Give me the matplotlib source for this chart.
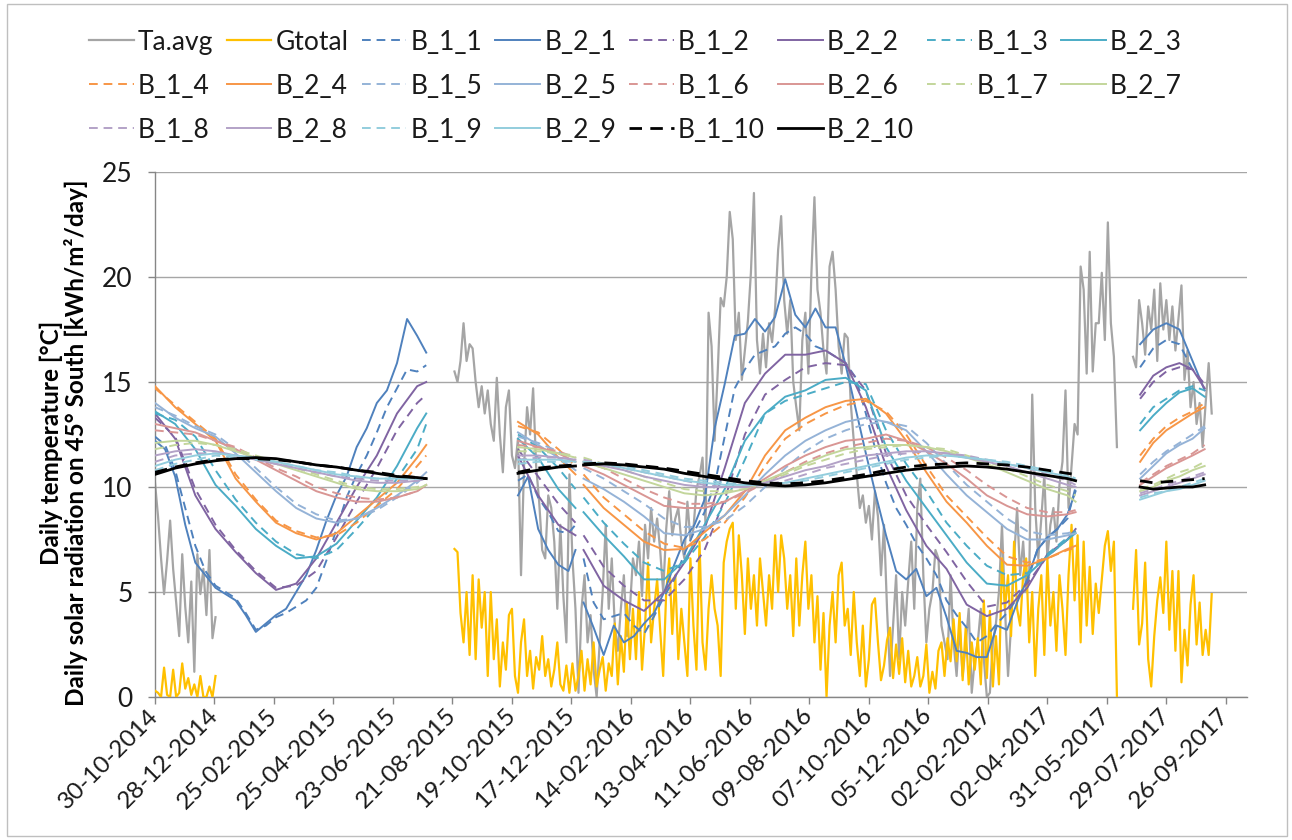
import numpy as np
import matplotlib
matplotlib.use('Agg')
import matplotlib.pyplot as plt
import matplotlib.dates as mdates
from matplotlib.lines import Line2D
from matplotlib.patches import Rectangle

plt.rcParams['font.family'] = ['Lato', 'DejaVu Sans']

nan = np.nan
start_date = np.datetime64('2014-10-30')

##############################################################################
# Data (days counted from 30-10-2014)

# Ta.avg and Gtotal: one value every 3 days, three measuring periods
ta_start = [0, 297, 970]
ta_a = [10.2, 8.6, 6.6, 4.9, 6.5, 8.4, 6.1, 4.5, 2.9, 6.8, 4.3, 2.6, 5.5, 1.2, 6.8, 4.9, 6.1, 3.9, 7.0, 2.8, 3.8]
ta_b = [15.5, 15.0, 16.0, 17.8, 16.0, 16.8, 16.6, 15.0, 13.8, 14.8,
        13.5, 14.6, 13.0, 12.2, 15.2, 12.5, 10.7, 13.8, 14.6, 11.5,
        10.9, 12.3, 5.8, 11.0, 13.8, 12.5, 14.7, 11.0, 9.3, 7.0,
        6.6, 9.6, 9.0, 7.4, 4.2, 8.2, 4.8, 2.6, 10.6, 6.6,
        4.2, 0.2, 4.2, 5.8, 2.6, 3.9, 1.3, 0.0, 2.6, 5.0,
        8.2, 4.2, 6.6, 3.4, 2.2, 4.2, 5.8, 2.9, 4.2, 6.6,
        5.8, 7.4, 4.8, 8.2, 6.6, 9.0, 7.4, 8.5, 7.0,
        5.0, 8.0, 9.8, 7.7, 8.5, 9.0, 7.4, 6.6, 9.3, 7.5,
        8.0, 9.9, 10.5, 11.4, 8.2, 18.3, 16.7, 12.2, 15.4, 19.0,
        18.6, 20.0, 23.1, 21.8, 17.0, 18.3, 15.1, 16.5, 17.9, 20.2,
        24.0, 17.0, 15.4, 17.3, 15.7, 17.8, 16.9, 18.5, 21.3, 22.9,
        18.9, 17.3, 18.9, 15.0, 13.8, 12.7, 17.0, 18.3, 15.4, 20.2,
        23.8, 19.4, 18.3, 16.5, 15.4, 20.5, 21.2, 19.4, 16.7, 15.4,
        17.3, 17.1, 14.0, 12.2, 10.6, 9.0, 9.6, 8.3, 9.1, 7.5,
        9.8, 8.6,
        5.8, 8.2, 4.2, 1.0, 3.4, 5.8, 1.8, 5.0, 3.4, 5.5,
        7.4, 4.2, 9.0, 10.4, 5.8, 2.6, 4.2, 5.0, 7.0, 6.6,
        3.4, 2.6, 1.8, 5.8, 2.6, 1.0, 3.4, 1.0, 2.5, 4.2,
        0.2, 1.8, 2.6, 4.2, 1.8, 0.0, 0.2, 2.6, 3.5, 5.0,
        8.2, 4.2, 1.0, 3.4, 6.6, 9.0, 5.8, 7.4, 5.0, 5.8,
        14.4, 9.0, 6.6, 8.5, 10.6, 6.6, 8.2, 9.0, 7.4, 10.1,
        11.2, 14.6, 9.0, 11.0, 13.0, 12.5, 20.5, 19.4, 15.4, 21.2,
        15.5, 17.8, 17.8, 20.2, 17.0, 22.6, 17.8, 16.2, 11.9]
ta_c = [16.2, 15.7, 18.9, 17.8, 16.3, 18.6, 17.5, 19.4, 16.0, 19.7, 17.5, 18.9, 17.0, 18.6,
        16.5, 18.0, 19.6, 15.1, 16.5, 13.8, 15.0, 13.0, 14.0, 11.9, 14.0, 15.9, 13.5]

gt_a = [0.3, 0.2, 0.0, 1.4, 0.1, 0.0, 1.3, 0.0, 0.2, 1.6, 0.4, 0.9, 0.1, 0.6, 0.0, 1.0, 0.0, 0.0, 0.5, 0.0, 1.0]
gt_b = [7.05, 6.9, 4.0, 2.6, 5.0, 2.0, 5.8, 1.8, 5.6, 3.3,
        5.0, 1.0, 5.0, 1.8, 3.7, 0.5, 2.6, 1.3, 3.9, 4.2,
        1.0, 0.2, 2.6, 3.7, 1.0, 2.2, 0.4, 1.9, 1.3, 2.9,
        1.0, 1.8, 0.5, 1.3, 2.6, 0.6, 0.3, 1.5, 0.2, 1.6,
        0.3, 1.0, 2.2, 0.3, 1.8, 0.6, 2.6, 0.5, 1.3, 1.9,
        0.3, 1.6, 1.0, 3.5, 0.6, 2.9, 1.2, 4.5, 1.8, 4.2,
        1.8, 5.0, 1.3, 3.4, 6.4, 2.6, 4.2, 5.6, 3.2,
        1.0, 5.0, 6.6, 3.0, 5.8, 1.8, 4.2, 2.6, 1.0, 6.6,
        3.4, 1.3, 7.4, 2.6, 1.3, 4.2, 5.8, 4.2, 3.4, 1.0,
        6.4, 7.4, 8.0, 8.3, 4.2, 7.7, 5.8, 3.0, 6.6, 4.2,
        5.8, 3.4, 6.6, 5.0, 3.4, 5.8, 4.2, 7.7, 5.0, 7.7,
        6.6, 4.2, 5.8, 2.9, 6.6, 3.4, 5.8, 7.4, 4.2, 5.8,
        2.6, 4.8, 1.3, 4.0, 0.0, 3.4, 5.0, 2.6, 5.8, 6.4,
        3.4, 4.2, 2.0, 5.0, 2.6, 1.0, 3.4, 0.5, 1.8, 4.4,
        4.7, 2.6,
        0.8, 1.5, 2.7, 3.3, 0.9, 2.5, 1.1, 2.8, 0.7, 2.2,
        0.5, 1.0, 1.9, 0.5, 1.0, 2.5, 0.2, 1.2, 0.4, 2.2,
        2.6, 1.0, 2.8, 1.7, 3.7, 1.7, 4.0, 0.8, 3.3, 0.6,
        2.6, 1.3, 2.8, 0.6, 4.6, 0.9, 4.1, 0.5, 2.9, 0.6,
        6.6, 4.2, 5.8, 2.9, 7.4, 4.2, 3.4, 5.8, 6.6, 2.6,
        5.0, 1.0, 4.2, 5.8, 2.0, 6.6, 3.4, 5.0, 2.2, 5.8,
        4.2, 2.0, 5.8, 8.2, 4.6, 7.7, 2.6, 7.4, 3.4, 6.2,
        3.0, 5.4, 4.0, 5.6, 7.2, 7.9, 6.0, 7.4, 0.0]
gt_c = [4.2, 7.0, 2.5, 3.5, 6.4, 1.8, 0.5, 2.9, 4.6, 5.7, 4.0, 7.4, 3.2, 6.0,
        2.2, 6.0, 0.7, 3.2, 1.5, 4.4, 5.8, 2.5, 4.5, 2.0, 3.2, 2.0, 4.9]

# sample days for the B_ series (nan marks the breaks in the record)
days_c = [977, 990, 1003, 1016, 1029, 1041]
days_fine = (list(range(0, 261, 10)) + [269] + [300]
             + list(range(360, 411, 10)) + [417, 421] + list(range(425, 906, 10)) + [913]
             + [950] + days_c)
days_coarse = (list(range(0, 261, 20)) + [269] + [300]
               + [360, 380, 400, 417, 421] + list(range(425, 906, 20)) + [913]
               + [950] + days_c)

B_2_1 = [12.2, 11.8, 10.5, 8.2, 6.4, 5.8, 5.2, 4.9, 4.6, 3.9, 3.1, 3.5, 3.9, 4.2, 5.0, 5.8, 7.0, 8.4,
         9.6, 10.5, 11.9, 12.8, 14.0, 14.6, 15.9, 18.0, 17.2, 16.4,
         nan,
         9.6, 10.5, 8.0, 7.0, 6.3, 6.0, 7.0, nan,
         4.5, 3.3, 2.0, 3.4, 2.6, 2.9, 3.5, 4.0, 5.0, 6.3,
         7.5, 8.2, 9.4, 12.8, 14.9, 17.2, 17.3, 18.0, 17.4, 18.1,
         19.9, 18.2, 17.6, 18.5, 17.6, 17.6, 15.8, 13.7, 11.6, 9.6,
         7.7, 6.0, 5.6, 6.1, 4.8, 5.2, 3.8, 2.2, 2.1, 1.9,
         1.9, 3.4, 3.2, 4.5, 5.6, 7.0, 7.6, 8.0, 8.7, 9.8,
         nan,
         16.8, 17.5, 17.8, 17.5, 16.0, 14.6]
B_1_1 = [12.4, 12.0, 10.8, 9.0, 7.2, 6.0, 5.3, 5.0, 4.7, 4.0, 3.2, 3.4, 3.8, 4.0, 4.3, 4.6, 5.2, 6.5,
         8.0, 9.5, 10.6, 11.5, 12.6, 13.8, 14.7, 15.6, 15.5, 15.8,
         nan,
         10.3, 10.6, 9.5, 8.8, 7.9, 7.8, 8.2, nan,
         6.6, 4.5, 3.7, 3.85, 4.0, 3.4, 3.0, 3.85, 4.8, 5.6,
         6.8, 7.9, 8.8, 10.1, 12.4, 14.7, 15.6, 16.3, 16.5, 16.7,
         17.3, 17.6, 17.3, 16.7, 16.5, 16.2, 15.9, 15.2, 13.5, 11.7,
         10.2, 9.0, 8.2, 7.3, 6.6, 5.8, 4.6, 3.9, 3.3, 2.6,
         2.9, 3.5, 4.0, 4.7, 5.5, 7.0, 7.6, 8.0, 8.5, 10.0,
         nan,
         15.7, 16.6, 17.0, 16.8, 15.6, 14.8]

B_1_2 = [13.3, 12.4, 9.9, 8.2, 7.0, 6.0, 5.2, 5.3, 6.0, 7.6, 9.3, 10.9, 12.7, 14.0, 14.4, nan,
         11.8, 10.5, 9.2, 8.3, nan, 7.7, 6.2, 5.3, 4.6, 4.6, 5.6, 7.0, 9.4, 12.5, 14.4, 15.1, 15.7,
         15.9, 15.8, 14.6, 11.6, 9.6, 8.2, 6.9, 5.5, 4.3, 4.5, 5.4, 6.7, 7.5, 7.9, nan,
         14.2, 15.0, 15.5, 15.7, 15.6, 14.9]
B_2_2 = [13.5, 12.3, 9.6, 8.0, 6.9, 5.9, 5.1, 5.4, 6.6, 8.3, 10.0, 11.5, 13.5, 14.8, 15.0, nan,
         11.5, 9.6, 8.2, 7.7, nan, 7.0, 5.3, 4.6, 4.1, 5.0, 6.4, 8.0, 10.9, 14.0, 15.4, 16.3, 16.3,
         16.5, 15.9, 13.8, 11.0, 8.9, 7.2, 6.1, 4.4, 3.85, 4.2, 5.2, 6.8, 7.5, 8.0, nan,
         14.4, 15.3, 15.7, 15.9, 15.6, 14.7]
B_1_3 = [13.5, 13.2, 12.4, 10.8, 9.4, 8.3, 7.4, 6.8, 6.6, 7.0, 8.0, 9.1, 10.4, 11.8, 13.0, nan,
         12.5, 11.9, 10.9, 9.9, nan, 9.5, 8.3, 7.3, 6.4, 6.0, 6.4, 7.6, 9.2, 11.3, 13.5, 14.1, 14.4,
         14.7, 15.0, 14.9, 12.7, 11.1, 9.8, 8.3, 7.2, 6.25, 5.8, 5.9, 6.8, 7.6, 7.9, nan,
         13.0, 13.8, 14.2, 14.6, 14.8, 14.6]
B_2_3 = [13.6, 13.0, 11.8, 10.1, 9.1, 8.0, 7.2, 6.6, 6.7, 7.3, 8.4, 9.5, 11.0, 12.8, 13.5, nan,
         12.3, 11.4, 9.9, 9.0, nan, 8.8, 7.7, 6.7, 5.6, 5.6, 6.5, 8.2, 9.9, 12.2, 13.5, 14.3, 14.6,
         15.1, 15.2, 14.6, 11.9, 10.3, 9.0, 7.7, 6.4, 5.4, 5.3, 5.8, 6.7, 7.5, 7.8, nan,
         12.7, 13.4, 14.0, 14.5, 14.7, 14.3]
B_1_4 = [14.7, 13.9, 13.1, 12.3, 10.6, 9.4, 8.4, 7.9, 7.6, 7.7, 8.3, 9.1, 9.9, 11.0, 11.5, nan,
         12.9, 12.6, 11.8, 11.0, nan, 10.6, 9.5, 8.7, 7.9, 7.3, 7.1, 7.5, 8.3, 9.5, 11.0, 12.3, 13.0,
         13.5, 13.9, 14.1, 13.6, 12.5, 11.0, 9.6, 8.6, 7.6, 6.7, 6.4, 6.6, 7.0, 7.1, nan,
         11.5, 12.3, 12.9, 13.3, 13.6, 14.0]
B_2_4 = [14.8, 13.8, 13.0, 12.2, 10.4, 9.3, 8.3, 7.8, 7.5, 7.8, 8.6, 9.4, 10.2, 11.4, 12.0, nan,
         13.1, 12.5, 11.4, 10.6, nan, 10.1, 9.0, 8.2, 7.4, 7.0, 7.05, 7.85, 8.65, 9.8, 11.5, 12.7, 13.3,
         13.8, 14.1, 14.2, 13.5, 12.2, 10.7, 9.3, 8.3, 7.2, 6.3, 6.25, 6.6, 7.05, 7.2, nan,
         11.2, 12.1, 12.7, 13.1, 13.5, 13.8]
B_1_5 = [13.8, 13.4, 12.9, 12.5, 11.8, 10.9, 10.0, 9.2, 8.7, 8.4, 8.5, 8.9, 9.5, 10.2, 10.6, nan,
         12.4, 12.1, 11.7, 11.2, nan, 10.9, 10.4, 9.8, 9.2, 8.5, 8.1, 8.1, 8.4, 9.1, 10.0, 10.9, 11.7,
         12.3, 12.7, 13.0, 13.1, 12.9, 12.1, 11.1, 10.1, 9.3, 8.5, 7.9, 7.7, 7.8, 7.9, nan,
         10.6, 11.2, 11.7, 12.1, 12.5, 12.9]
B_2_5 = [14.0, 13.3, 12.8, 12.4, 11.6, 10.7, 9.8, 9.0, 8.5, 8.3, 8.5, 9.0, 9.6, 10.3, 10.7, nan,
         12.6, 12.0, 11.4, 10.8, nan, 10.4, 9.9, 9.3, 8.6, 7.8, 7.7, 8.0, 8.65, 9.6, 10.6, 11.5, 12.2,
         12.7, 13.1, 13.3, 13.1, 12.7, 11.7, 10.6, 9.6, 8.8, 8.0, 7.5, 7.5, 7.7, 7.8, nan,
         10.4, 11.0, 11.6, 12.0, 12.3, 12.8]
B_1_6 = [12.7, 12.6, 12.5, 12.2, 11.9, 11.4, 10.9, 10.5, 10.0, 9.7, 9.5, 9.4, 9.5, 9.8, 10.1, nan,
         12.0, 11.9, 11.7, 11.4, nan, 11.2, 10.9, 10.4, 9.9, 9.5, 9.2, 9.2, 9.3, 9.7, 10.2, 10.7, 11.2,
         11.6, 11.9, 12.1, 12.3, 12.2, 11.9, 11.4, 10.8, 10.1, 9.5, 9.0, 8.8, 8.8, 8.9, nan,
         10.2, 10.6, 11.0, 11.3, 11.6, 12.0]
B_2_6 = [13.0, 12.8, 12.6, 12.2, 11.8, 11.3, 10.8, 10.3, 9.8, 9.5, 9.3, 9.3, 9.5, 9.8, 10.1, nan,
         12.2, 11.9, 11.6, 11.2, nan, 11.0, 10.6, 10.1, 9.6, 9.1, 9.0, 9.0, 9.3, 9.8, 10.4, 11.0, 11.5,
         11.9, 12.2, 12.3, 12.5, 12.2, 11.7, 11.1, 10.4, 9.6, 9.1, 8.7, 8.6, 8.7, 8.8, nan,
         10.1, 10.5, 10.9, 11.2, 11.5, 11.8]
B_1_7 = [11.8, 12.0, 12.1, 12.0, 11.8, 11.5, 11.2, 10.9, 10.6, 10.3, 10.0, 9.9, 9.9, 10.0, 10.1, nan,
         11.7, 11.7, 11.6, 11.5, nan, 11.4, 11.1, 10.8, 10.5, 10.2, 9.9, 9.8, 9.8, 9.9, 10.2, 10.6, 11.0,
         11.3, 11.6, 11.8, 11.9, 12.0, 11.9, 11.8, 11.5, 11.2, 10.9, 10.5, 10.1, 9.8, 9.6, nan,
         9.9, 10.1, 10.4, 10.7, 10.9, 11.2]
B_2_7 = [12.1, 12.2, 12.2, 12.0, 11.7, 11.4, 11.1, 10.8, 10.5, 10.2, 9.9, 9.8, 9.8, 9.9, 10.1, nan,
         11.9, 11.8, 11.6, 11.4, nan, 11.2, 10.9, 10.6, 10.3, 10.0, 9.7, 9.6, 9.7, 9.9, 10.3, 10.7, 11.1,
         11.5, 11.8, 11.9, 12.0, 12.0, 11.9, 11.7, 11.4, 11.1, 10.7, 10.3, 9.9, 9.6, 9.3, nan,
         9.8, 10.0, 10.3, 10.5, 10.8, 11.0]
B_1_8 = [11.2, 11.5, 11.6, 11.6, 11.5, 11.3, 11.1, 10.9, 10.7, 10.5, 10.4, 10.3, 10.3, 10.3, 10.4, nan,
         11.3, 11.4, 11.4, 11.3, nan, 11.3, 11.1, 10.9, 10.7, 10.5, 10.3, 10.1, 10.0, 10.0, 10.1, 10.3, 10.6,
         10.9, 11.1, 11.3, 11.5, 11.6, 11.7, 11.6, 11.5, 11.3, 11.1, 10.9, 10.6, 10.3, 10.1, nan,
         9.7, 9.9, 10.1, 10.3, 10.5, 10.7]
B_2_8 = [11.5, 11.7, 11.8, 11.7, 11.5, 11.3, 11.1, 10.9, 10.7, 10.5, 10.3, 10.2, 10.2, 10.3, 10.4, nan,
         11.5, 11.5, 11.4, 11.3, nan, 11.2, 11.0, 10.8, 10.5, 10.3, 10.1, 10.0, 10.0, 10.0, 10.2, 10.5, 10.8,
         11.0, 11.3, 11.5, 11.6, 11.7, 11.7, 11.6, 11.4, 11.2, 11.0, 10.7, 10.4, 10.1, 10.0, nan,
         9.6, 9.8, 10.0, 10.2, 10.4, 10.6]
B_1_9 = [10.8, 11.1, 11.3, 11.5, 11.4, 11.3, 11.2, 11.0, 10.8, 10.7, 10.5, 10.4, 10.4, 10.4, 10.4, nan,
         11.1, 11.2, 11.2, 11.2, nan, 11.2, 11.1, 11.0, 10.8, 10.6, 10.4, 10.3, 10.2, 10.1, 10.1, 10.2, 10.3,
         10.5, 10.7, 10.9, 11.1, 11.3, 11.4, 11.5, 11.4, 11.3, 11.2, 11.0, 10.8, 10.6, 10.4, nan,
         9.5, 9.7, 9.8, 10.0, 10.2, 10.4]
B_2_9 = [11.0, 11.3, 11.5, 11.6, 11.5, 11.4, 11.2, 11.0, 10.8, 10.6, 10.5, 10.4, 10.4, 10.4, 10.4, nan,
         11.3, 11.3, 11.3, 11.2, nan, 11.2, 11.1, 10.9, 10.7, 10.5, 10.3, 10.2, 10.1, 10.1, 10.1, 10.2, 10.4,
         10.6, 10.8, 11.0, 11.2, 11.4, 11.5, 11.5, 11.4, 11.3, 11.1, 10.9, 10.7, 10.5, 10.3, nan,
         9.4, 9.6, 9.8, 9.9, 10.1, 10.3]
B_1_10 = [10.7, 10.95, 11.15, 11.3, 11.35, 11.35, 11.3, 11.2, 11.05, 10.95, 10.8, 10.7, 10.55, 10.45, 10.4, nan,
          10.7, 10.9, 11.0, 11.05, nan, 11.1, 11.15, 11.1, 11.0, 10.9, 10.75, 10.6, 10.45, 10.3, 10.2, 10.15, 10.2,
          10.3, 10.45, 10.6, 10.8, 10.95, 11.05, 11.1, 11.15, 11.1, 11.05, 10.95, 10.8, 10.65, 10.6, nan,
          10.3, 10.2, 10.25, 10.3, 10.35, 10.4]
B_2_10 = [10.6, 10.9, 11.1, 11.25, 11.35, 11.4, 11.35, 11.2, 11.05, 10.95, 10.8, 10.65, 10.5, 10.45, 10.4, nan,
          10.65, 10.8, 10.95, 11.0, nan, 11.05, 11.1, 11.05, 10.95, 10.85, 10.65, 10.5, 10.35, 10.2, 10.1, 10.05, 10.1,
          10.2, 10.35, 10.5, 10.65, 10.8, 10.9, 10.95, 11.0, 10.95, 10.85, 10.7, 10.55, 10.4, 10.3, nan,
          10.0, 9.9, 9.95, 10.0, 10.0, 10.1]

# B_ series in legend order: (name, values, sample days)
pair_colors = ['#4F81BD', '#8064A2', '#4BACC6', '#F79646', '#95B3D7',
               '#D99694', '#C3D69B', '#B3A2C7', '#93CDDD', '#000000']
b_series = [
    ('B_1_1', B_1_1, days_fine), ('B_2_1', B_2_1, days_fine),
    ('B_1_2', B_1_2, days_coarse), ('B_2_2', B_2_2, days_coarse),
    ('B_1_3', B_1_3, days_coarse), ('B_2_3', B_2_3, days_coarse),
    ('B_1_4', B_1_4, days_coarse), ('B_2_4', B_2_4, days_coarse),
    ('B_1_5', B_1_5, days_coarse), ('B_2_5', B_2_5, days_coarse),
    ('B_1_6', B_1_6, days_coarse), ('B_2_6', B_2_6, days_coarse),
    ('B_1_7', B_1_7, days_coarse), ('B_2_7', B_2_7, days_coarse),
    ('B_1_8', B_1_8, days_coarse), ('B_2_8', B_2_8, days_coarse),
    ('B_1_9', B_1_9, days_coarse), ('B_2_9', B_2_9, days_coarse),
    ('B_1_10', B_1_10, days_coarse), ('B_2_10', B_2_10, days_coarse),
]


def to_dates(days):
    return start_date + np.asarray(days, dtype=int).astype('timedelta64[D]')


##############################################################################
# Figure
W, H = 1292, 840
fig = plt.figure(figsize=(W / 100, H / 100), dpi=100)
ax = fig.add_axes([155 / W, 1 - 697 / H, (1247 - 155) / W, (697 - 172) / H])

handles = []
labels = []

# Ta.avg
for st, seg in zip(ta_start, [ta_a, ta_b, ta_c]):
    ax.plot(to_dates(np.arange(st, st + 3 * len(seg), 3)), seg, color='#A5A5A5', lw=1.6, zorder=2)
handles.append(Line2D([], [], color='#A5A5A5', lw=1.6))
labels.append('Ta.avg')

# Gtotal
for st, seg in zip(ta_start, [gt_a, gt_b, gt_c]):
    ax.plot(to_dates(np.arange(st, st + 3 * len(seg), 3)), seg, color='#FFC000', lw=1.6, zorder=3)
handles.append(Line2D([], [], color='#FFC000', lw=1.6))
labels.append('Gtotal')

for i, (name, vals, days) in enumerate(b_series):
    col = pair_colors[i // 2]
    dashed = name.startswith('B_1')
    lw = 2.0 if col == '#000000' else 1.4
    n = min(len(vals), len(days))
    ls = (0, (4.5, 3.0)) if dashed else '-'
    ax.plot(to_dates(days[:n]), vals[:n], color=col, lw=lw, ls=ls, zorder=4 + i)
    handles.append(Line2D([], [], color=col, lw=lw, ls=ls))
    labels.append(name)

# axes
ax.set_ylim(0, 25)
ax.set_yticks(range(0, 26, 5))
ax.set_xlim(to_dates([0])[0], to_dates([1083])[0])
ax.set_xticks(mdates.date2num(to_dates(np.arange(19) * 59)))
ax.xaxis.set_major_formatter(mdates.DateFormatter('%d-%m-%Y'))
ax.yaxis.grid(True, color='#A6A6A6', lw=1.0)
ax.set_axisbelow(True)
for s in ['top', 'right']:
    ax.spines[s].set_visible(False)
for s in ['left', 'bottom']:
    ax.spines[s].set_color('#868686')
    ax.spines[s].set_linewidth(1.0)
ax.tick_params(axis='both', direction='out', length=5, width=1.0, color='#868686',
               labelcolor='#1a1a1a')
ax.tick_params(axis='y', pad=11, labelsize=19)
ax.tick_params(axis='x', pad=6, labelsize=17.5)
for lab in ax.get_xticklabels():
    lab.set_rotation(45)
    lab.set_ha('right')
    lab.set_va('center')
    lab.set_rotation_mode('anchor')

fig.text(64 / W, 1 - 443 / H,
         'Daily temperature [°C]\nDaily solar radiation on 45° South [kWh/m²/day]',
         rotation=90, ha='center', va='center', fontsize=17.5, fontweight='bold',
         linespacing=1.05, color='#000000')

# legend, row by row like the original (matplotlib fills columns first)
ncol = 8
order = []
for c in range(ncol):
    order += list(range(c, len(handles), ncol))
fig.legend([handles[k] for k in order], [labels[k] for k in order], ncol=ncol,
           loc='upper center', bbox_to_anchor=(0.492, 0.993), frameon=False,
           fontsize=19, handlelength=1.7, handletextpad=0.15, columnspacing=0.5,
           labelspacing=0.72, labelcolor='#1a1a1a')

fig.patches.append(Rectangle((7 / W, 4 / H), 1280 / W, 832 / H, transform=fig.transFigure,
                             fill=False, edgecolor='#BFBFBF', lw=1.0))

fig.savefig('out.png', dpi=100)
